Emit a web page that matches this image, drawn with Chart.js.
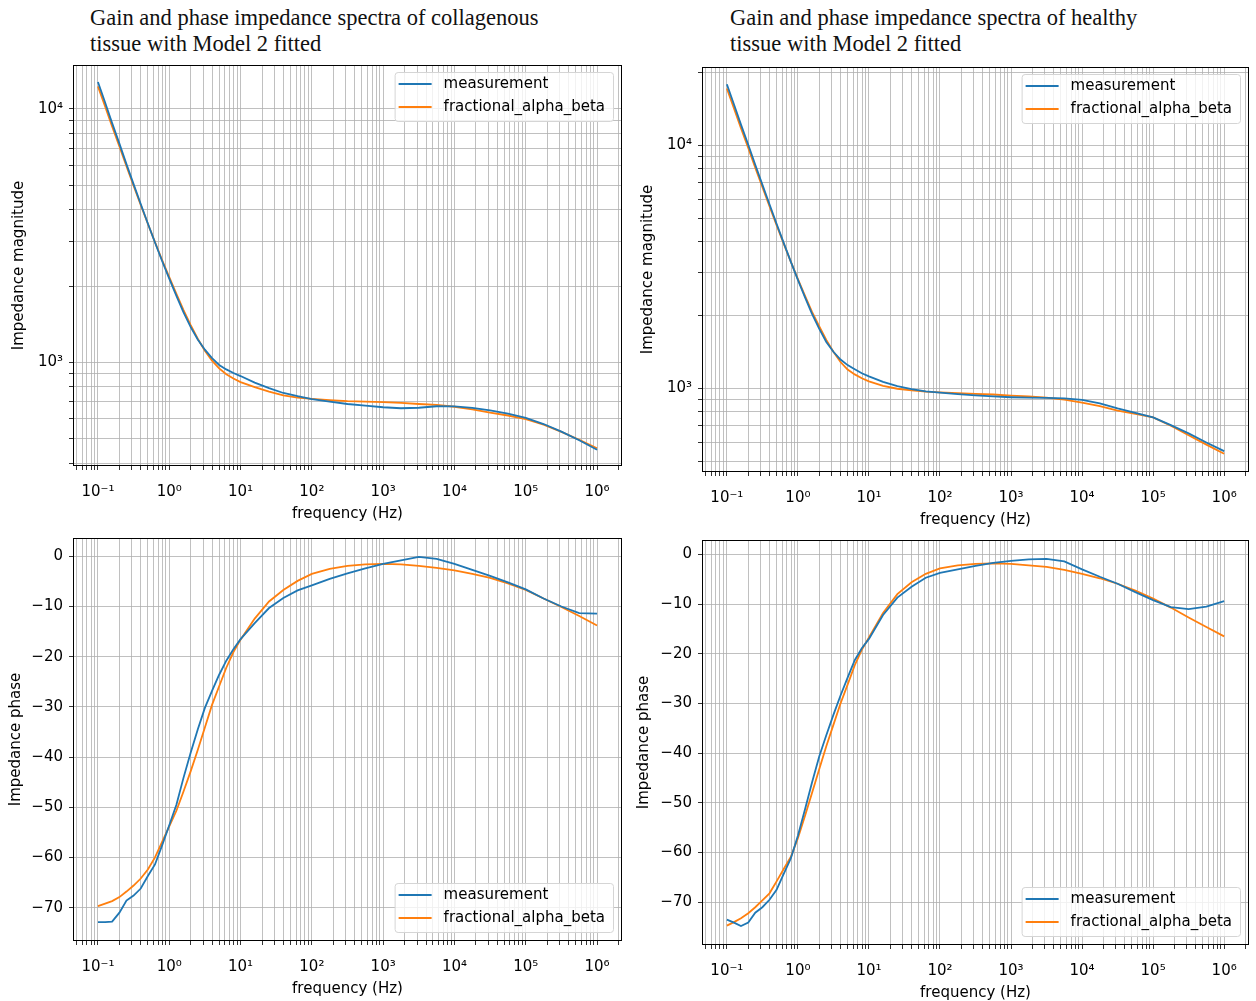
<!DOCTYPE html>
<html>
<head>
<meta charset="utf-8">
<script src="https://cdn.jsdelivr.net/npm/chart.js@4.4.0/dist/chart.umd.min.js"></script>
<style>
  html, body { margin: 0; padding: 0; background: #fff; }
  body { width: 1256px; height: 1001px; position: relative; overflow: hidden; }
  .title { position: absolute; font-family: "Liberation Serif", serif; font-size: 22.5px; line-height: 26px; color: #111; white-space: nowrap; }
  canvas { position: absolute; }
</style>
</head>
<body>
<div class="title" style="left:90px; top:5px">Gain and phase impedance spectra of collagenous<br>tissue with Model 2 fitted</div>
<div class="title" style="left:730px; top:5px">Gain and phase impedance spectra of healthy<br>tissue with Model 2 fitted</div>
<canvas id="magCollagen"></canvas>
<canvas id="magHealthy"></canvas>
<canvas id="phaseCollagen"></canvas>
<canvas id="phaseHealthy"></canvas>
<script>
// frequencies (Hz) shared by all series
var freq = [0.1, 0.126, 0.158, 0.2, 0.251, 0.316, 0.398, 0.501, 0.631, 0.794,
  1, 1.26, 1.58, 2, 2.51, 3.16, 3.98, 5.01, 6.31, 7.94,
  10, 15.8, 25.1, 39.8, 63.1, 100, 178, 316, 562, 1000, 1778, 3162, 5623,
  10000, 17783, 31623, 56234, 100000, 177828, 316228, 562341, 1000000];

// impedance magnitude
var collagenMagMeas = [12764, 10593, 8790, 7295, 6053, 5047, 4217, 3532, 2972, 2512,
  2138, 1828, 1578, 1377, 1230, 1122, 1040, 977, 938, 908,
  883, 832, 791, 757, 735, 716, 700, 685, 675, 665, 659, 662, 671,
  670, 661, 647, 628, 604, 571, 533, 493, 452];
var collagenMagFit = [12274, 10233, 8531, 7112, 5943, 4977, 4178, 3524, 2979, 2535,
  2168, 1862, 1611, 1403, 1239, 1112, 1016, 946, 897, 863,
  836, 798, 766, 741, 726, 718, 710, 703, 700, 697, 692, 685, 679,
  668, 653, 634, 617, 597, 568, 532, 495, 458];
var healthyMagMeas = [17824, 14723, 12162, 10046, 8318, 6887, 5715, 4753, 3963, 3319,
  2793, 2366, 2023, 1754, 1549, 1413, 1312, 1245, 1197, 1153,
  1119, 1062, 1019, 991, 971, 959, 946, 935, 925, 918, 914, 912, 908,
  895, 867, 826, 791, 758, 705, 652, 598, 551];
var healthyMagFit = [17140, 14191, 11749, 9750, 8091, 6730, 5610, 4688, 3936, 3319,
  2812, 2399, 2061, 1795, 1581, 1413, 1282, 1194, 1140, 1099,
  1067, 1023, 995, 979, 968, 962, 955, 948, 942, 933, 925, 914, 897,
  873, 843, 809, 785, 759, 701, 640, 586, 537];

// impedance phase (degrees)
var collagenPhaseMeas = [-72.9, -72.9, -72.8, -71.0, -68.6, -67.6, -66.2, -63.7, -61.4, -57.6,
  -53.6, -49.5, -44.2, -39.1, -34.5, -30.2, -26.8, -23.6, -20.8, -18.5,
  -16.5, -13.3, -10.3, -8.3, -6.8, -5.8, -4.5, -3.4, -2.4, -1.5, -0.8, -0.1, -0.5,
  -1.5, -2.7, -3.9, -5.2, -6.6, -8.4, -10.0, -11.3, -11.4];
var collagenPhaseFit = [-69.7, -69.2, -68.7, -67.9, -66.8, -65.6, -64.2, -62.4, -60.0, -56.9,
  -53.8, -50.7, -46.9, -42.8, -38.6, -34.1, -29.6, -25.9, -22.2, -19.1,
  -16.6, -12.4, -9.0, -6.7, -4.9, -3.5, -2.5, -1.9, -1.6, -1.5, -1.6, -1.9, -2.3,
  -2.8, -3.5, -4.3, -5.4, -6.7, -8.4, -10.1, -11.9, -13.8];
var healthyPhaseMeas = [-73.5, -74.1, -74.8, -74.1, -72.1, -71.0, -69.5, -67.5, -64.3, -61.2,
  -56.6, -51.3, -45.9, -40.6, -36.4, -32.3, -28.4, -24.8, -21.3, -18.9,
  -17.0, -12.2, -8.7, -6.5, -4.7, -3.7, -3.0, -2.3, -1.7, -1.3, -1.0, -0.9, -1.4,
  -3.0, -4.5, -5.9, -7.6, -9.2, -10.6, -11.0, -10.5, -9.4];
var healthyPhaseFit = [-74.7, -74.0, -73.2, -72.2, -71.0, -69.6, -68.2, -65.8, -63.3, -60.9,
  -57.1, -52.6, -48.0, -43.2, -38.6, -34.3, -30.0, -26.2, -22.3, -19.2,
  -16.7, -11.8, -8.0, -5.6, -3.9, -2.8, -2.2, -1.9, -1.8, -1.9, -2.2, -2.5, -3.1,
  -3.9, -4.8, -5.9, -7.3, -8.9, -10.7, -12.7, -14.6, -16.5];

// tick labels
var xTickValues = [0.1, 1, 10, 100, 1000, 10000, 100000, 1000000];
var xTickLabels = ['10⁻¹', '10⁰', '10¹', '10²', '10³', '10⁴', '10⁵', '10⁶'];
var magTickValues = [1000, 10000];
var magTickLabels = ['10³', '10⁴'];
var phaseTickValues = [0, -10, -20, -30, -40, -50, -60, -70];
var phaseTickLabels = ['0', '−10', '−20', '−30', '−40', '−50', '−60', '−70'];

var seriesNames = ['measurement', 'fractional_alpha_beta'];
var blue = '#1f77b4';
var orange = '#ff7f0e';

Chart.defaults.font.family = '"DejaVu Sans", sans-serif';
Chart.defaults.font.size = 15;
Chart.defaults.color = '#000';

function logTicks(min, max) {
  var out = [];
  for (var e = Math.floor(Math.log10(min)); e <= Math.ceil(Math.log10(max)); e++) {
    for (var k = 1; k <= 9; k++) {
      var v = k * Math.pow(10, e);
      if (v >= min && v <= max) out.push({value: v});
    }
  }
  return out;
}

function labelFor(value, values, labels) {
  for (var i = 0; i < values.length; i++) {
    if (Math.abs(value - values[i]) <= Math.abs(values[i]) * 1e-9 + 1e-9) return labels[i];
  }
  return '';
}

function points(vals) {
  return freq.map(function (f, i) { return {x: f, y: vals[i]}; });
}

// black frame round the plot area
var framePlugin = {
  id: 'frame',
  afterDatasetsDraw: function (chart) {
    var a = chart.chartArea, ctx = chart.ctx;
    ctx.save();
    ctx.strokeStyle = '#000';
    ctx.lineWidth = 1;
    ctx.strokeRect(Math.round(a.left) + 0.5, Math.round(a.top) + 0.5,
      Math.round(a.right - a.left) - 1, Math.round(a.bottom - a.top) - 1);
    ctx.restore();
  }
};

// matplotlib style legend inside the axes
var boxLegendPlugin = {
  id: 'boxLegend',
  afterDraw: function (chart) {
    var opt = chart.options.plugins.boxLegend;
    if (!opt) return;
    var ctx = chart.ctx, area = chart.chartArea;
    var sets = chart.data.datasets;
    ctx.save();
    ctx.font = '15px "DejaVu Sans"';
    var textW = 0;
    sets.forEach(function (d) { textW = Math.max(textW, ctx.measureText(d.label).width); });
    var w = textW + 57, h = 49;
    var x = area.right - 9 - w;
    var y = opt.corner === 'top' ? area.top + 7 : area.bottom - 9 - h;
    ctx.beginPath();
    ctx.roundRect(x + 0.5, y + 0.5, w, h, 3);
    ctx.fillStyle = 'rgba(255,255,255,0.8)';
    ctx.fill();
    ctx.strokeStyle = '#d5d5d5';
    ctx.lineWidth = 1;
    ctx.stroke();
    sets.forEach(function (d, i) {
      var cy = y + 12 + i * 23;
      ctx.strokeStyle = d.borderColor;
      ctx.lineWidth = 2;
      ctx.beginPath();
      ctx.moveTo(x + 4, cy);
      ctx.lineTo(x + 37, cy);
      ctx.stroke();
      ctx.fillStyle = '#000';
      ctx.textBaseline = 'middle';
      ctx.fillText(d.label, x + 49, cy);
    });
    ctx.restore();
  }
};

var Y_W = 73, X_H = 59, PAD_T = 12, PAD_R = 10;

function makePanel(id, rect, meas, fit, kind, yMin, yMax, yTitle, yTitlePad, corner) {
  var canvas = document.getElementById(id);
  canvas.width = (rect[2] - rect[0]) + Y_W + PAD_R;
  canvas.height = (rect[3] - rect[1]) + PAD_T + X_H;
  canvas.style.left = (rect[0] - Y_W) + 'px';
  canvas.style.top = (rect[1] - PAD_T) + 'px';

  var yScale = {
    type: kind === 'mag' ? 'logarithmic' : 'linear',
    min: yMin,
    max: yMax,
    afterFit: function (s) { s.width = Y_W; },
    afterBuildTicks: function (s) {
      s.ticks = kind === 'mag' ? logTicks(yMin, yMax)
        : phaseTickValues.map(function (v) { return {value: v}; });
    },
    ticks: {
      autoSkip: false,
      padding: 6,
      callback: function (v) {
        return kind === 'mag' ? labelFor(v, magTickValues, magTickLabels)
          : labelFor(v, phaseTickValues, phaseTickLabels);
      }
    },
    grid: { color: '#b0b0b0', lineWidth: 0.8, tickLength: 4, tickColor: '#000' },
    border: { display: false },
    title: { display: true, text: yTitle, padding: {top: yTitlePad, bottom: 0} }
  };

  var xMin = 0.04467, xMax = 2238700;
  var chart = new Chart(canvas, {
    type: 'line',
    data: {
      datasets: [
        { label: seriesNames[0], data: points(meas), borderColor: blue, borderWidth: 1.8,
          pointRadius: 0, tension: 0, fill: false },
        { label: seriesNames[1], data: points(fit), borderColor: orange, borderWidth: 1.8,
          pointRadius: 0, tension: 0, fill: false }
      ]
    },
    options: {
      responsive: false,
      animation: false,
      devicePixelRatio: 1,
      layout: { padding: { left: 0, top: PAD_T, right: PAD_R, bottom: 0 } },
      plugins: {
        legend: { display: false },
        tooltip: { enabled: false },
        boxLegend: { corner: corner }
      },
      scales: {
        x: {
          type: 'logarithmic',
          min: xMin,
          max: xMax,
          afterFit: function (s) { s.height = X_H; },
          afterBuildTicks: function (s) { s.ticks = logTicks(xMin, xMax); },
          ticks: {
            autoSkip: false,
            maxRotation: 0,
            padding: 13,
            callback: function (v) { return labelFor(v, xTickValues, xTickLabels); }
          },
          grid: { color: '#b0b0b0', lineWidth: 0.8, tickLength: 4, tickColor: '#000' },
          border: { display: false },
          title: { display: true, text: 'frequency (Hz)', padding: {top: 0, bottom: 2} }
        },
        y: yScale
      }
    },
    plugins: [framePlugin, boxLegendPlugin]
  });

  // shift the canvas so the plot area sits where the reference has it
  var a = chart.chartArea;
  canvas.style.left = (rect[0] - a.left) + 'px';
  canvas.style.top = (rect[1] - a.top) + 'px';
  return chart;
}

makePanel('magCollagen', [73, 65, 622, 469], collagenMagMeas, collagenMagFit,
  'mag', 390, 14900, 'Impedance magnitude', 10, 'top');
makePanel('magHealthy', [702, 67, 1249, 475], healthyMagMeas, healthyMagFit,
  'mag', 452, 21000, 'Impedance magnitude', 10, 'top');
makePanel('phaseCollagen', [73, 538, 622, 944], collagenPhaseMeas, collagenPhaseFit,
  'phase', -76.65, 3.65, 'Impedance phase', 7, 'bottom');
makePanel('phaseHealthy', [702, 540, 1249, 948], healthyPhaseMeas, healthyPhaseFit,
  'phase', -78.6, 2.9, 'Impedance phase', 6, 'bottom');
</script>
</body>
</html>
